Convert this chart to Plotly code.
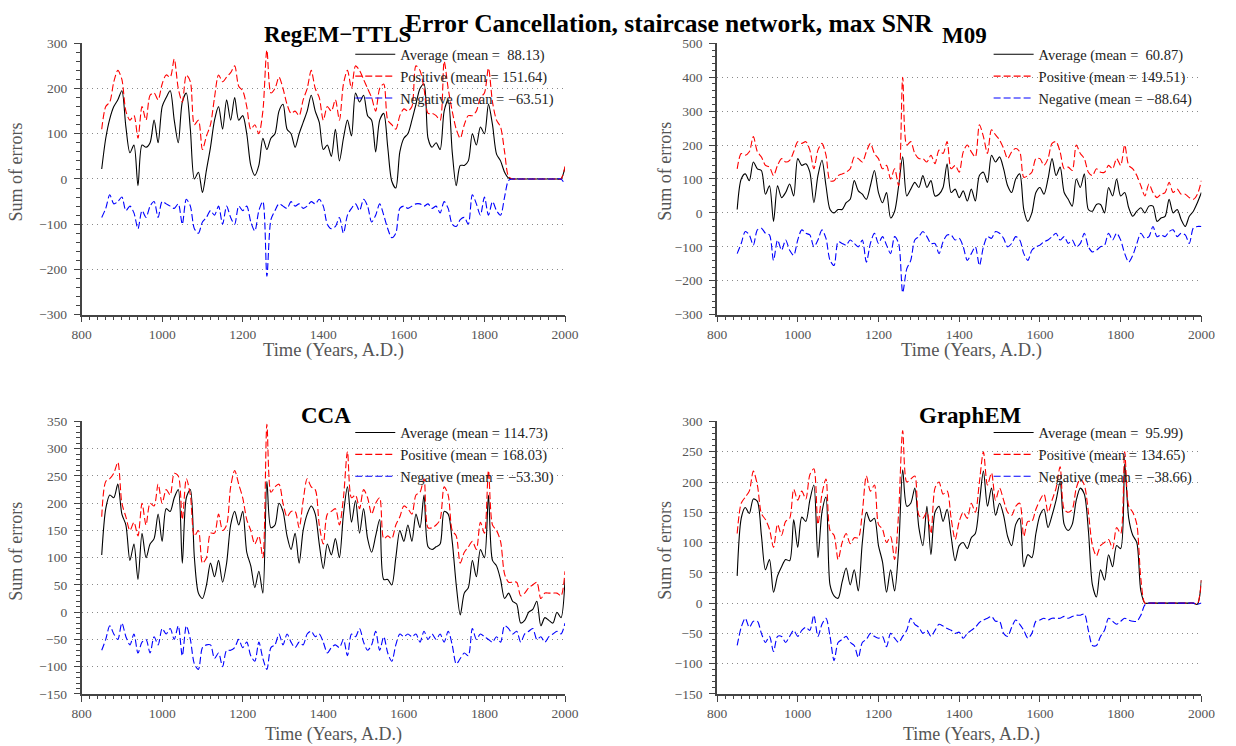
import plotly.graph_objects as go

W, H = 1236, 746

years = list(range(850, 2001, 10))

# ---------------- RegEM-TTLS ----------------
regem_avg = [22, 90, 133, 160, 175, 195, 115, 58, 75, -15,
             75, 70, 80, 130, 80, 160, 180, 195, 130, 80,
             170, 190, 110, 0, 15, -30, 20, 70, 130, 160,
             110, 175, 130, 180, 130, 140, 100, 30, 8, 30,
             90, 65, 90, 100, 150, 165, 110, 100, 70, 100,
             125, 150, 185, 150, 125, 65, 75, 50, 110, 40,
             90, 130, 95, 190, 170, 185, 140, 130, 60, 130,
             145, 70, -5, -20, 60, 90, 100, 130, 165, 200,
             210, 90, 70, 80, 65, 150, 175, 60, -15, 30,
             30, 40, 100, 75, 115, 100, 165, 120, 55, 40,
             15, 2, 0, 0, 0, 0, 0, 0, 0, 0,
             0, 0, 0, 0, 0, 25]
regem_pos = [110, 160, 170, 215, 240, 220, 150, 130, 140, 90,
             160, 130, 185, 190, 175, 210, 230, 225, 265, 200,
             170, 230, 215, 120, 130, 65, 95, 120, 180, 230,
             215, 225, 235, 250, 205, 195, 160, 110, 120, 100,
             150, 285, 190, 200, 225, 200, 165, 145, 150, 140,
             175, 200, 240, 200, 180, 130, 160, 150, 175, 130,
             210, 240, 200, 250, 240, 220, 200, 180, 150, 200,
             210, 130, 120, 110, 140, 155, 150, 160, 250, 240,
             200, 145, 145, 140, 130, 260, 200, 150, 110, 90,
             120, 140, 140, 150, 180, 190, 245, 170, 130, 115,
             60, 5, 0, 0, 0, 0, 0, 0, 0, 0,
             0, 0, 0, 0, 0, 28]
regem_neg = [-85, -65, -35, -55, -50, -40, -70, -60, -75, -110,
             -70, -85, -60, -50, -85, -50, -55, -60, -65, -55,
             -100, -45, -60, -110, -120, -95, -85, -70, -80, -60,
             -100, -60, -85, -100, -60, -70, -60, -95, -115, -70,
             -50, -215, -90, -70, -55, -60, -65, -50, -60, -55,
             -65, -60, -50, -55, -45, -60, -100, -110, -105, -85,
             -120, -80, -65, -55, -70, -45, -60, -95, -80, -55,
             -80, -110, -130, -120, -65, -60, -65, -60, -55, -55,
             -60, -55, -65, -60, -75, -50, -65, -100, -105, -90,
             -85, -100, -35, -55, -80, -40, -80, -50, -70, -80,
             -40, -3, 0, 0, 0, 0, 0, 0, 0, 0,
             0, 0, 0, 0, 0, -12]

# ---------------- M09 ----------------
m09_avg = [10, 100, 115, 95, 150, 130, 125, 55, 80, -25,
           80, 45, 60, 85, 50, 160, 140, 145, 120, 30,
           110, 155, 80, 10, 0, 10, 10, 30, 40, 95,
           65, 55, 40, 80, 125, 60, 30, 60, -15, 5,
           80, 165, 50, 70, 90, 75, 110, 75, 95, 50,
           55, 75, 145, 60, 70, 45, 65, 35, 70, 35,
           110, 120, 90, 170, 150, 165, 130, 80, 60, 100,
           115, 10, -25, 0, 60, 75, 55, 100, 160, 110,
           135, 60, 40, 20, 100, 75, 115, 10, 5, 25,
           25, 0, 75, 50, 100, 50, 60, 15, -10, 5,
           15, 0, 20, 20, -25, -15, -10, 40, 0, 10,
           -20, -40, -10, 5, 30, 60]
m09_pos = [130, 175, 170, 180, 225, 180, 165, 140, 135, 110,
           140, 160, 150, 155, 180, 210, 205, 210, 185, 130,
           185, 205, 170, 95, 95, 110, 115, 120, 130, 165,
           160, 150, 180, 205, 175, 160, 130, 140, 100, 130,
           80, 400, 200, 210, 175, 160, 160, 150, 170, 145,
           185, 175, 210, 130, 140, 120, 180, 200, 180, 165,
           260, 225, 175, 245, 230, 215, 190, 160, 180, 190,
           180, 105, 110, 120, 160, 160, 140, 160, 205, 210,
           180, 130, 135, 125, 200, 175, 160, 120, 110, 130,
           120, 120, 140, 130, 160, 140, 200, 140, 130, 110,
           80, 50, 85, 60, 45, 55, 60, 90, 60, 70,
           55, 55, 45, 40, 55, 95]
m09_neg = [-120, -90, -55, -65, -95, -50, -45, -60, -65, -140,
           -80, -110, -80, -110, -125, -80, -50, -60, -65, -100,
           -80, -50, -75, -140, -155, -85, -90, -95, -80, -90,
           -100, -80, -145, -90, -60, -90, -70, -95, -120, -70,
           -90, -235, -165, -140, -80, -70, -55, -70, -90, -90,
           -120, -85, -65, -65, -80, -75, -100, -140, -120, -100,
           -155, -100, -70, -75, -55, -60, -75, -100, -90, -70,
           -80, -120, -140, -110, -100, -95, -85, -80, -70, -60,
           -80, -70, -90, -80, -100, -90, -60, -100, -115, -110,
           -100, -95, -60, -80, -60, -80, -120, -145, -125, -90,
           -60, -75, -70, -40, -70, -65, -70, -55, -50, -70,
           -60, -65, -90, -45, -40, -40]

# ---------------- CCA ----------------
cca_avg = [105, 190, 215, 210, 235, 180, 160, 95, 125, 60,
           145, 100, 125, 135, 180, 130, 190, 185, 210, 225,
           90, 210, 225, 100, 35, 25, 50, 90, 65, 95,
           55, 90, 160, 185, 160, 185, 110, 85, 45, 75,
           35, 240, 155, 160, 200, 185, 140, 115, 145, 90,
           150, 180, 195, 180, 125, 80, 125, 105, 135, 100,
           180, 230, 165, 205, 145, 190, 135, 110, 140, 170,
           60, 60, 50, 100, 150, 130, 160, 130, 180, 155,
           215, 120, 115, 120, 125, 185, 180, 130, 50, -5,
           35, 45, 95, 65, 115, 100, 215, 95, 85, 60,
           25, 35, 20, 15, -20, -15, 0, 5, 20, -25,
           -10, -15, -20, 0, -10, 60]
cca_pos = [175, 240, 245, 255, 275, 200, 175, 150, 165, 140,
           200, 160, 200, 195, 235, 200, 225, 215, 255, 250,
           170, 245, 215, 140, 150, 90, 100, 145, 145, 180,
           150, 160, 230, 260, 235, 210, 170, 150, 125, 140,
           100, 345, 220, 230, 235, 200, 175, 185, 185, 155,
           205, 245, 230, 225, 160, 125, 180, 185, 190, 160,
           210, 295, 210, 215, 190, 225, 210, 180, 200, 210,
           135, 140, 135, 160, 175, 195, 190, 180, 215, 220,
           245, 155, 155, 160, 170, 230, 215, 150, 140, 90,
           110, 120, 130, 115, 165, 145, 260, 160, 150, 130,
           70, 55, 55, 55, 30, 35, 45, 50, 55, 25,
           35, 35, 35, 35, 30, 75]
cca_neg = [-70, -50, -25, -40, -50, -20, -45, -60, -40, -75,
           -55, -50, -75, -45, -60, -30, -40, -30, -50, -25,
           -80, -25, -50, -95, -105, -65, -60, -60, -85, -75,
           -100, -70, -70, -65, -50, -65, -55, -80, -90, -55,
           -85, -105, -65, -60, -40, -60, -40, -55, -65, -55,
           -60, -40, -35, -45, -40, -55, -75, -65, -60, -65,
           -50, -80, -40, -45, -30, -55, -70, -60, -35, -70,
           -45, -75, -90, -60, -40, -45, -40, -45, -40, -55,
           -35, -50, -40, -50, -40, -55, -35, -60, -95, -85,
           -75, -80, -30, -50, -40, -45, -50, -55, -45, -55,
           -25, -30, -40, -35, -55, -40, -35, -30, -50, -45,
           -55, -45, -40, -35, -40, -20]

# ---------------- GraphEM ----------------
gem_avg = [45, 140, 158, 148, 172, 168, 112, 55, 72, 18,
           45, 60, 72, 70, 138, 92, 142, 135, 170, 195,
           75, 150, 175, 30, 12, 8, 35, 58, 30, 55,
           20, 100, 150, 135, 140, 95, 68, 18, 55, 20,
           90, 220, 160, 165, 190, 125, 95, 160, 80, 150,
           160, 135, 155, 110, 70, 95, 100, 90, 108, 115,
           165, 218, 160, 190, 145, 165, 145, 110, 95, 130,
           140, 60, 80, 75, 115, 145, 155, 125, 145, 170,
           200, 130, 120, 130, 170, 190, 180, 120, 30, 10,
           55, 38, 80, 60, 95, 90, 230, 140, 112, 100,
           20, 0, 0, 0, 0, 0, 0, 0, 0, 0,
           0, 0, 0, 0, -2, 38]
gem_pos = [115, 165, 175, 185, 218, 195, 148, 138, 122, 92,
           130, 112, 135, 140, 188, 170, 185, 172, 212, 222,
           130, 180, 205, 120, 112, 72, 100, 115, 98, 108,
           108, 150, 210, 185, 195, 130, 122, 100, 110, 72,
           150, 285, 200, 205, 210, 145, 140, 150, 115, 190,
           200, 180, 185, 140, 105, 135, 150, 140, 165, 150,
           200, 250, 195, 215, 170, 190, 170, 150, 145, 160,
           165, 110, 135, 135, 155, 170, 180, 150, 170, 190,
           225, 155, 150, 155, 190, 205, 195, 150, 95, 78,
           95, 100, 105, 90, 125, 115, 250, 160, 150, 130,
           40, 0, 0, 0, 0, 0, 0, 0, 0, 0,
           0, 0, 0, 0, -1, 38]
gem_neg = [-70, -40, -25, -40, -30, -30, -50, -65, -55, -80,
           -55, -55, -65, -55, -45, -55, -45, -40, -45, -20,
           -55, -35, -25, -55, -95, -65, -60, -55, -65, -70,
           -90, -65, -60, -50, -55, -58, -55, -72, -50, -58,
           -65, -55, -45, -25, -35, -40, -50, -45, -55, -45,
           -35, -38, -42, -45, -50, -48, -58, -50, -45, -40,
           -32, -28, -25, -22, -30, -30, -50, -55, -40, -28,
           -35, -45, -58, -50, -30, -28, -25, -28, -25, -25,
           -25, -22, -25, -22, -20, -20, -18, -45, -70, -70,
           -55, -45, -25, -30, -35, -30, -25, -28, -30, -30,
           -20, -3, 0, 0, 0, 0, 0, 0, 0, 0,
           0, 0, 0, 0, -2, 0]

panels = [
    dict(name="RegEM\u2212TTLS", avg=regem_avg, pos=regem_pos, neg=regem_neg,
         means=("\u00a088.13", "151.64", "\u221263.51"), yr=[-300, 300], dt=100, mdt=20),
    dict(name="M09", avg=m09_avg, pos=m09_pos, neg=m09_neg,
         means=("\u00a060.87", "149.51", "\u221288.64"), yr=[-300, 500], dt=100, mdt=20),
    dict(name="CCA", avg=cca_avg, pos=cca_pos, neg=cca_neg,
         means=("114.73", "168.03", "\u221253.30"), yr=[-150, 350], dt=50, mdt=10),
    dict(name="GraphEM", avg=gem_avg, pos=gem_pos, neg=gem_neg,
         means=("\u00a095.99", "134.65", "\u221238.66"), yr=[-150, 300], dt=50, mdt=10),
]

# pixel geometry of each panel: (left, right, top, bottom)
geom = [(73, 566, 37, 314), (721, 1215, 37, 314),
        (73, 566, 423, 701), (721, 1215, 423, 701)]
title_pos = [(334, 28), (973, 29), (322, 417), (980, 417)]
xtitle_pos = [(330, 351), (981, 351), (330, None), (981, None)]
ytitle_x = [6, 668, 6, 668]
ytitle_y = [168, 168, 555, 555]
legend_pos = [(347, 32), (998, 32), (347, 418), (998, 418)]

FONT = "Liberation Serif, Times New Roman, serif"
GREY = "#555555"

fig = go.Figure()
layout = dict(
    width=W, height=H, margin=dict(l=0, r=0, t=0, b=0),
    paper_bgcolor="white", plot_bgcolor="white",
    font=dict(family=FONT, color=GREY),
    showlegend=True,
)
annotations = []

for i, p in enumerate(panels):
    k = "" if i == 0 else str(i + 1)
    lg = "legend" + k
    xa, ya = "x" + k, "y" + k
    series = [
        ("Average (mean = %s)" % p["means"][0], p["avg"], dict(color="#000000", width=1.1)),
        ("Positive (mean = %s)" % p["means"][1], p["pos"], dict(color="#ff0000", width=1.1, dash="7px,3px")),
        ("Negative (mean = %s)" % p["means"][2], p["neg"], dict(color="#0000ff", width=1.1, dash="7px,3px")),
    ]
    for nm, vals, ln in series:
        fig.add_trace(go.Scatter(x=years, y=vals, mode="lines", name=nm,
                                 line=dict(shape="spline", smoothing=0.8, **ln),
                                 xaxis=xa, yaxis=ya, legend=lg))
    l, r, t, b = geom[i]
    layout["xaxis" + k] = dict(
        domain=[l / W, r / W], anchor=ya, range=[800, 2000], dtick=200, tick0=800,
        showgrid=False, zeroline=False, showline=True, linecolor="#444444", linewidth=1.5,
        ticks="outside", ticklen=6, tickcolor="#444444", tickwidth=1.2,
        minor=dict(dtick=20, ticks="outside", ticklen=3.5, tickcolor="#444444", tickwidth=1),
        tickfont=dict(family=FONT, size=13.5, color=GREY), ticklabelstandoff=0,
    )
    layout["yaxis" + k] = dict(
        domain=[1 - b / H, 1 - t / H], anchor=xa, range=p["yr"], dtick=p["dt"],
        showgrid=True, gridcolor="#8a8a8a", griddash="1px,4px", gridwidth=1,
        zeroline=False, showline=True, linecolor="#444444", linewidth=1.5,
        ticks="outside", ticklen=6, tickcolor="#444444", tickwidth=1.2,
        minor=dict(dtick=p["mdt"], ticks="outside", ticklen=3.5, tickcolor="#444444",
                   tickwidth=1, showgrid=False),
        tickfont=dict(family=FONT, size=13.5, color=GREY), ticklabelstandoff=4,
    )
    lx, ly = legend_pos[i]
    layout[lg] = dict(x=lx / W, y=1 - ly / H, xanchor="left", yanchor="top",
                      bgcolor="rgba(0,0,0,0)", borderwidth=0,
                      font=dict(family=FONT, size=14.5, color="#222222"),
                      tracegroupgap=0, itemwidth=40)
    tx, ty = title_pos[i]
    annotations.append(dict(text="<b>%s</b>" % p["name"], x=tx / W, y=1 - ty / H,
                            xref="paper", yref="paper", showarrow=False,
                            xanchor="center", yanchor="middle",
                            font=dict(family=FONT, size=23, color="#000000")))
    xx, xy = xtitle_pos[i]
    if xy is None:
        annotations.append(dict(text="Time (Years, A.D.)", x=xx / W, y=0, yshift=-8,
                                xref="paper", yref="paper", showarrow=False,
                                xanchor="center", yanchor="bottom", borderpad=0,
                                font=dict(family=FONT, size=18, color=GREY)))
    else:
        annotations.append(dict(text="Time (Years, A.D.)", x=xx / W, y=1 - xy / H,
                                xref="paper", yref="paper", showarrow=False,
                                xanchor="center", yanchor="middle",
                                font=dict(family=FONT, size=18.5, color=GREY)))
    annotations.append(dict(text="Sum of errors", x=ytitle_x[i] / W, y=1 - ytitle_y[i] / H,
                            xref="paper", yref="paper", showarrow=False, textangle=-90,
                            xanchor="center", yanchor="middle", borderpad=0,
                            font=dict(family=FONT, size=18, color=GREY)))

annotations.append(dict(text="<b>Error Cancellation, staircase network, max SNR</b>",
                        x=672 / W, y=1 - 17 / H, xref="paper", yref="paper",
                        showarrow=False, xanchor="center", yanchor="middle",
                        font=dict(family=FONT, size=25.5, color="#000000")))
layout["annotations"] = annotations
fig.update_layout(**layout)
fig.write_html("out.html")
